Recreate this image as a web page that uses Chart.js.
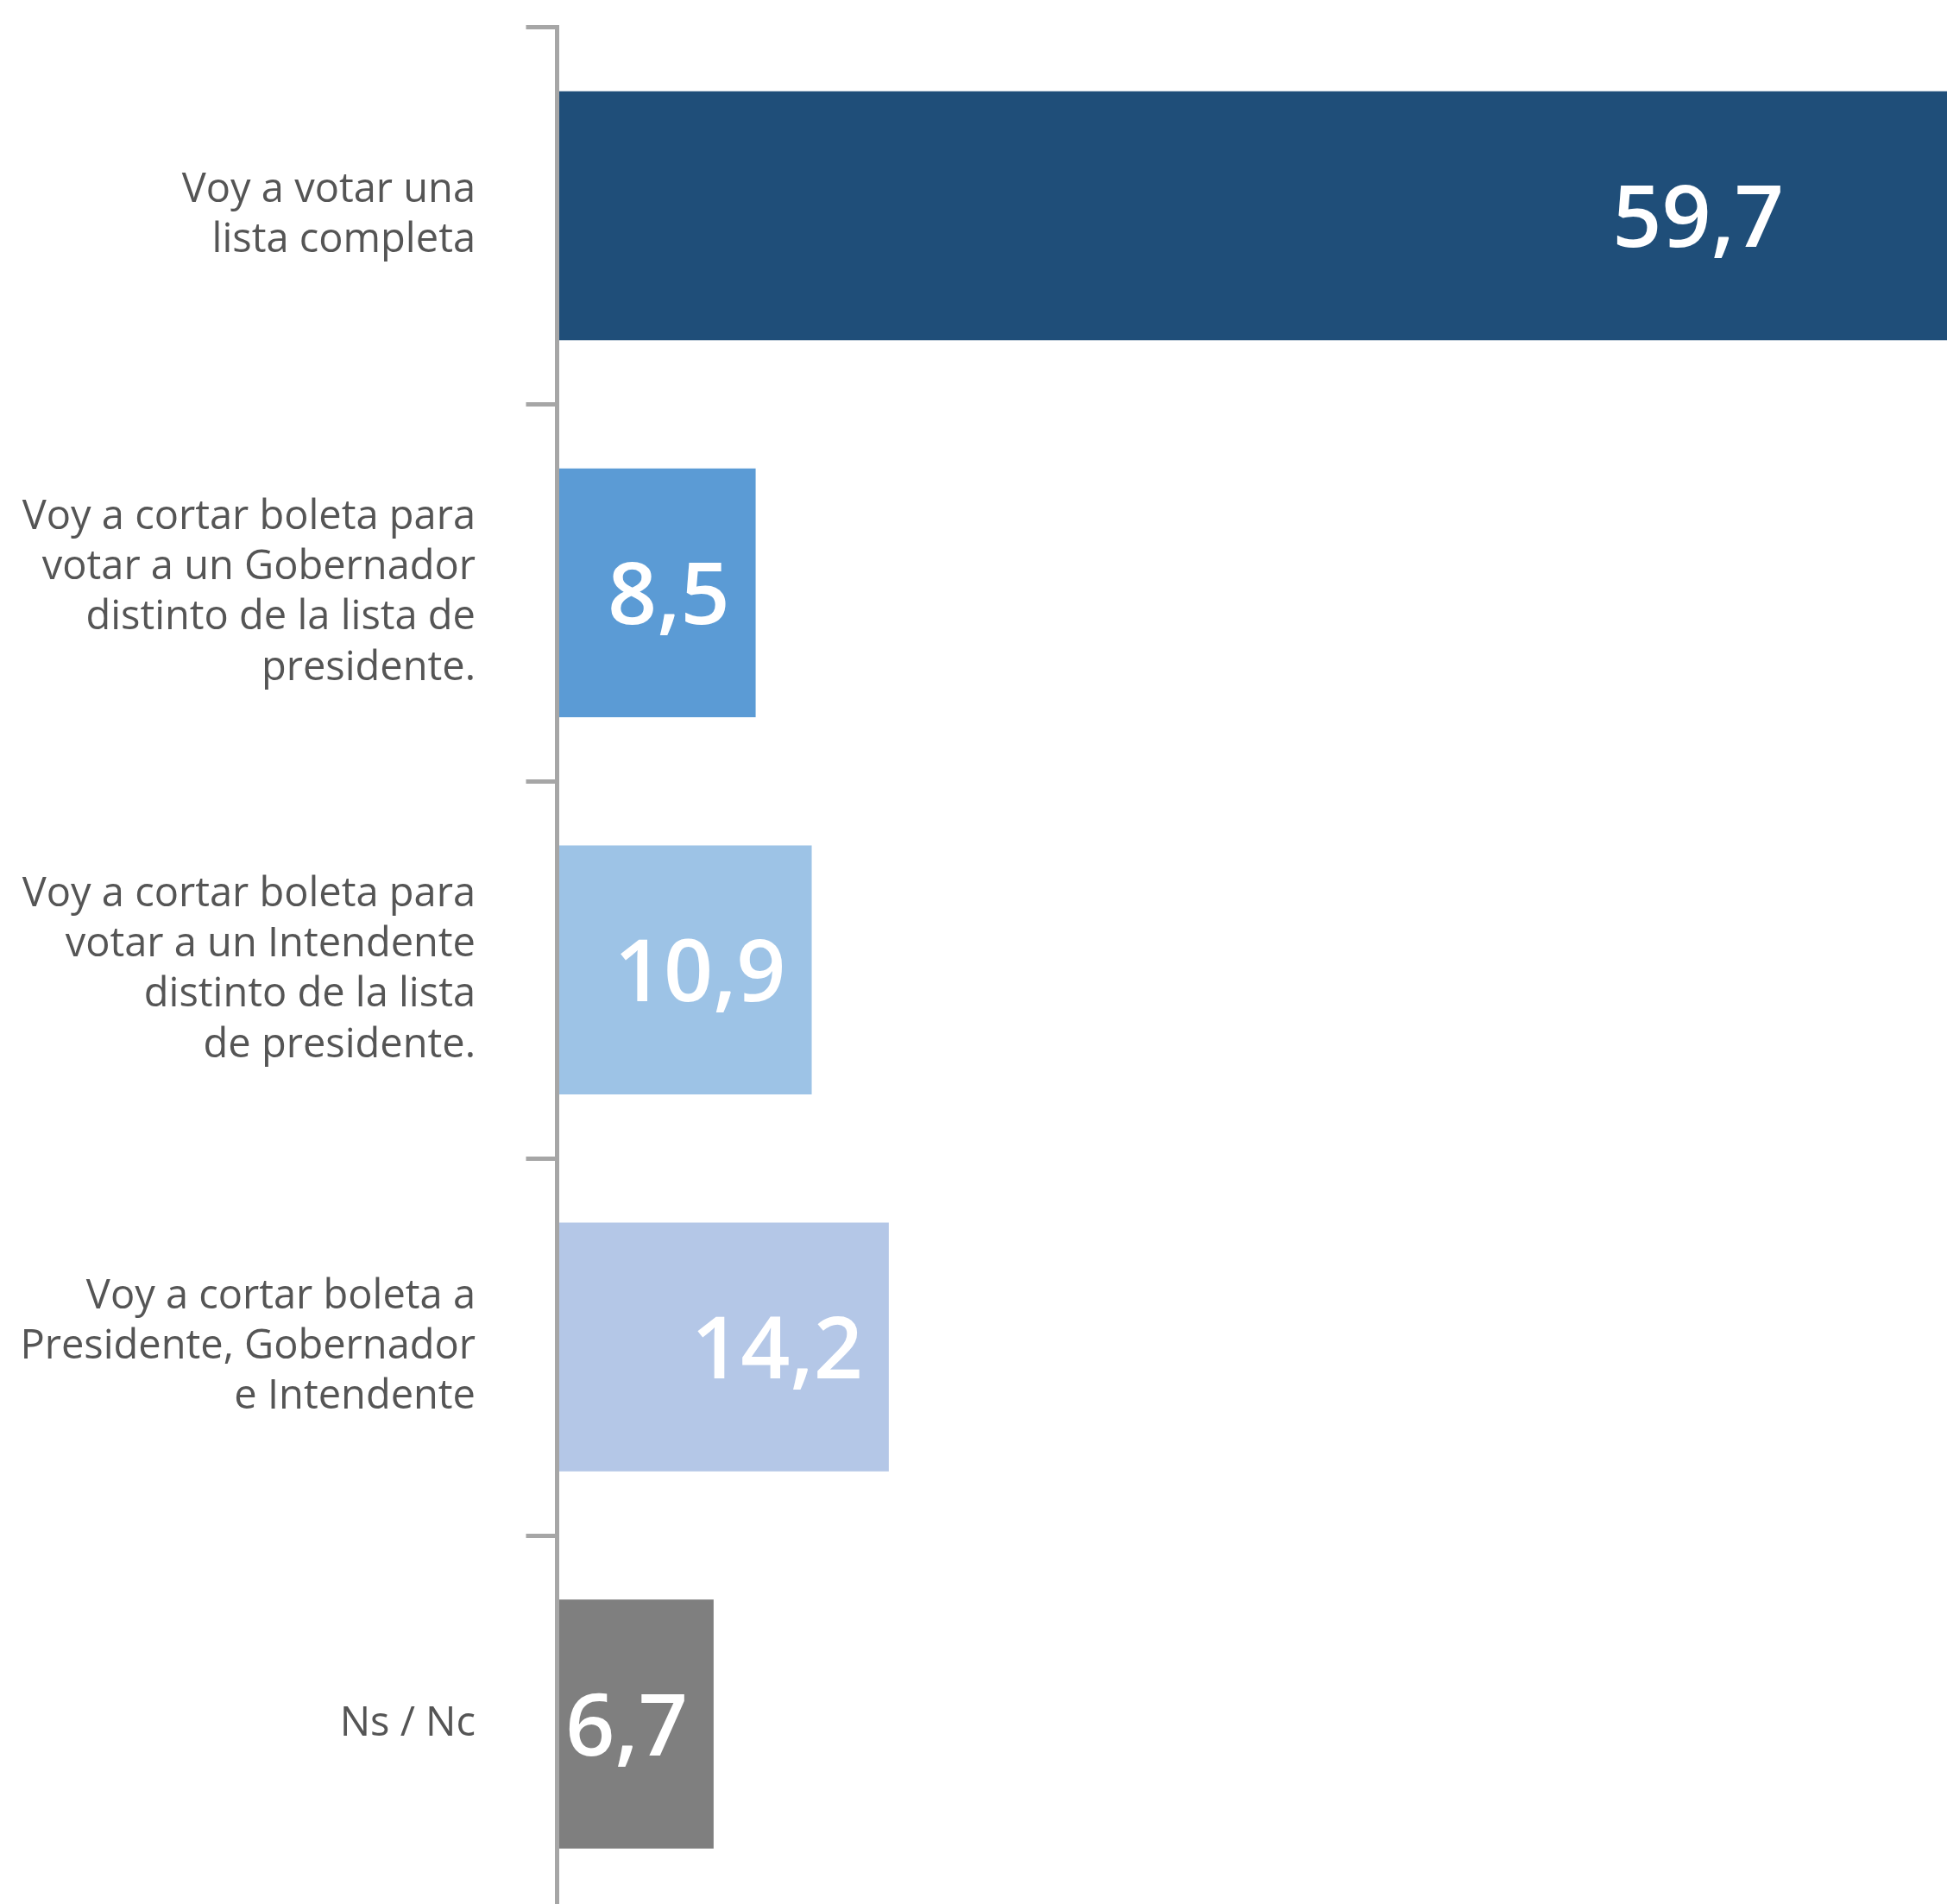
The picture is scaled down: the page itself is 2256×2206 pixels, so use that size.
<!DOCTYPE html>
<html>
<head>
<meta charset="utf-8">
<script src="https://cdn.jsdelivr.net/npm/chart.js@4"></script>
<style>
html,body{margin:0;padding:0;background:#fff;overflow:hidden;}
#wrap{width:2256px;height:2206px;position:relative;overflow:hidden;}
</style>
</head>
<body>
<div id="wrap"><canvas id="c" width="2256" height="2216"></canvas></div>
<script>
const categories = [
  ["Voy a votar una", "lista completa"],
  ["Voy a cortar boleta para", "votar a un Gobernador", "distinto de la lista de", "presidente."],
  ["Voy a cortar boleta para", "votar a un Intendente", "distinto de la lista", "de presidente."],
  ["Voy a cortar boleta a", "Presidente, Gobernador", "e Intendente"],
  ["Ns / Nc"]
];
const values = [59.7, 8.5, 10.9, 14.2, 6.7];
const valueLabels = ["59,7", "8,5", "10,9", "14,2", "6,7"];
const barColors = ["#1F4E79", "#5B9BD5", "#9DC3E6", "#B4C7E7", "#7F7F7F"];

const valueLabelPlugin = {
  id: 'valueLabels',
  afterDatasetsDraw(chart) {
    const ctx = chart.ctx;
    const meta = chart.getDatasetMeta(0);
    const area = chart.chartArea;
    ctx.save();
    ctx.font = '600 100px "Open Sans"';
    ctx.fillStyle = '#FFFFFF';
    ctx.textAlign = 'right';
    ctx.textBaseline = 'alphabetic';
    meta.data.forEach((bar, i) => {
      const xr = bar.x > area.right ? area.right - 189 : bar.x - 30;
      ctx.fillText(valueLabels[i], xr, bar.y + 36);
    });
    ctx.restore();
  }
};

new Chart(document.getElementById('c'), {
  type: 'bar',
  data: {
    labels: categories,
    datasets: [{
      data: values,
      backgroundColor: barColors,
      borderWidth: 0,
      categoryPercentage: 0.66,
      barPercentage: 1
    }]
  },
  options: {
    indexAxis: 'y',
    responsive: false,
    animation: false,
    layout: { padding: { top: 31.5, left: 0, right: 0, bottom: 0 } },
    plugins: { legend: { display: false }, tooltip: { enabled: false } },
    scales: {
      x: { display: false, min: 0, max: 59.5 },
      y: {
        offset: true,
        grid: {
          display: true, offset: true, drawOnChartArea: false, drawTicks: true,
          tickLength: 36, color: '#A6A6A6', lineWidth: 5
        },
        border: { display: true, color: '#A6A6A6', width: 5, z: 1 },
        ticks: {
          autoSkip: false, padding: 58.5, color: '#555555',
          font: { family: '"Open Sans"', size: 47, weight: '500', lineHeight: 1.24 }
        },
        afterFit(scale) {
          scale.width = 645.5;
          scale.paddingTop = 0;
          scale.paddingBottom = 0;
        }
      }
    }
  },
  plugins: [valueLabelPlugin]
});
</script>
</body>
</html>
